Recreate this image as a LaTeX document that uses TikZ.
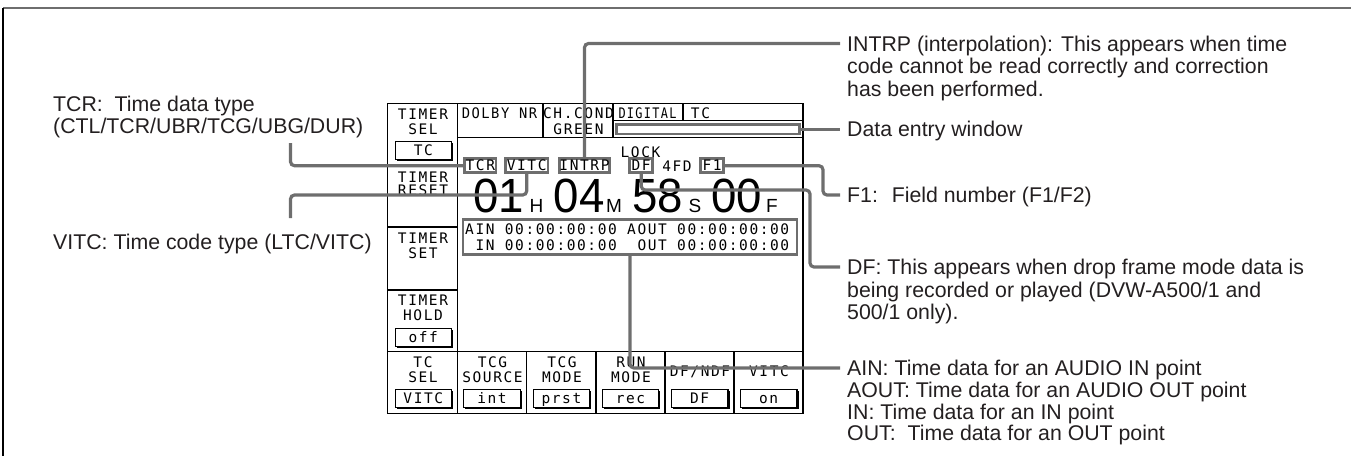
\documentclass[tikz,border=0pt]{standalone}
\usepackage{fontspec}
\usepackage{graphicx}
\usetikzlibrary{shadows}
\newfontfamily\lblfont{Liberation Sans}
\newfontfamily\lcdfont[LetterSpace=11]{DejaVu Sans Mono}
\newfontfamily\bigfont{Liberation Sans}
\definecolor{leadgray}{HTML}{6E6E6E}
\definecolor{txt}{HTML}{231F20}
\newcommand{\lsp}{\hspace{10.33pt}}
\begin{document}
\begin{tikzpicture}[x=1pt,y=-1pt,
  lbl/.style={anchor=base west, inner xsep=7pt, inner ysep=0pt, text height=15pt, text depth=0pt,
    font=\lblfont\fontsize{21.3}{22.5}\selectfont, text=txt},
  lblL/.style={lbl, inner xsep=0pt},
  lcd/.style={anchor=base, inner sep=0pt, font=\lcdfont\fontsize{14.5}{16}\selectfont},
  leader/.style={draw=leadgray, line width=3.2pt, rounded corners=4pt},
  hl/.style={draw=leadgray, line width=2.6pt, inner sep=0pt, minimum height=14.1pt,
    text height=10.5pt, text depth=0pt, font=\lcdfont\fontsize{14.5}{16}\selectfont},
  scr/.style={line width=1.3pt},
  btn/.style={draw=black, fill=white, line width=1.1pt, minimum width=56.5pt, minimum height=18pt,
    inner sep=0pt, text height=10.5pt, text depth=0pt, font=\lcdfont\fontsize{14.5}{16}\selectfont,
    drop shadow={shadow xshift=1.7pt, shadow yshift=-1.7pt, fill=black, opacity=1}},
  big/.style={anchor=base, inner sep=0pt, font=\bigfont\fontsize{48}{48}\selectfont},
  unit/.style={anchor=base, inner sep=0pt, font=\bigfont\fontsize{19}{19}\selectfont}]
\useasboundingbox (0,0) rectangle (1351,456);
% outer frame
\draw[leadgray, line width=2pt] (3,7.5) -- (1351,7.5);
\draw[black, line width=1.3pt] (3,7.5) -- (3,456);

% screen frame
\draw[scr] (387.5,103.5) rectangle (803,413.3);
\draw[scr] (457.3,103.5) -- (457.3,413.3);
\draw[scr] (387.5,165.5) -- (457.3,165.5);
\draw[scr] (387.5,227) -- (457.3,227);
\draw[scr] (387.5,290) -- (457.3,290);
\draw[scr] (387.5,351.7) -- (803,351.7);
\foreach \xx in {526.7,596,665,734} \draw[scr] (\xx,351.7) -- (\xx,413.3);
\draw[scr] (457.3,137.5) -- (803,137.5);
\draw[scr] (543,103.5) -- (543,137.5);
\draw[scr] (613,103.5) -- (613,137.5);
\draw[scr] (683,103.5) -- (683,120.7);
\draw[scr] (613,120.7) -- (803,120.7);

% left column
\node[lcd] (tsel1) at (423,119.5) {TIMER};
\node[lcd] (tsel2) at (423,134.5) {SEL};
\node[btn] (btnTC) at (423.3,150.3) {TC};
\node[lcd] (trst1) at (423,182.5) {TIMER};
\node[lcd] (trst2) at (423,195.5) {RESET};
\node[lcd] (tset1) at (423,243.5) {TIMER};
\node[lcd] (tset2) at (423,258.5) {SET};
\node[lcd] (thld1) at (423,305.5) {TIMER};
\node[lcd] (thld2) at (423,320.5) {HOLD};
\node[btn] (btnOff) at (423.3,337.2) {off};

% bottom row
\node[lcd] (b1a) at (423,367) {TC};
\node[lcd] (b1b) at (423,382.5) {SEL};
\node[lcd] (b2a) at (492.5,367) {TCG};
\node[lcd] (b2b) at (492.5,382.5) {SOURCE};
\node[lcd] (b3a) at (562,367) {TCG};
\node[lcd] (b3b) at (562,382.5) {MODE};
\node[lcd] (b4a) at (631,367) {RUN};
\node[lcd] (b4b) at (631,382.5) {MODE};
\node[lcd] (b5) at (700,376) {DF/NDF};
\node[lcd] (b6) at (769,376) {VITC};
\node[btn] (btn1) at (423.3,398.5) {VITC};
\node[btn] (btn2) at (492,398.5) {int};
\node[btn] (btn3) at (561.4,398.5) {prst};
\node[btn] (btn4) at (630.5,398.5) {rec};
\node[btn] (btn5) at (699.7,398.5) {DF};
\node[btn] (btn6) at (768.7,398.5) {on};

% top row
\node[lcd] (dolby) at (499.5,118) {\scalebox{0.95}[1]{DOLBY NR}};
\node[lcd] (chc1) at (578.5,118) {CH.COND};
\node[lcd] (chc2) at (578.5,134.5) {GREEN};
\node[lcd] (digi) at (647.5,118) {\scalebox{0.82}[1]{DIGITAL}};
\node[lcd] (tctop) at (700.5,118) {TC};
\node[draw=leadgray, line width=2.6pt, minimum width=183pt, minimum height=9.4pt, inner sep=0pt] (dew) at (708,129.2) {};

% status indicators
\node[lcd] (lock) at (640.5,157) {LOCK};
\node[hl, minimum width=31.4pt] (tcr) at (480.3,165.7) {TCR};
\node[hl, minimum width=42.7pt] (vitc) at (526.7,165.7) {VITC};
\node[hl, minimum width=50pt] (intrp) at (584.5,165.7) {INTRP};
\node[hl, minimum width=23.1pt] (df) at (641.2,165.7) {DF};
\node[lcd] (fourfd) at (677,171) {4FD};
\node[hl, minimum width=23.1pt] (f1) at (712.2,165.7) {F1};

% big time code
\node[big] (hh) at (498.4,212.7) {\scalebox{0.95}[1]{01}};
\node[unit] (uh) at (536.5,212.7) {H};
\node[big] (mm) at (579,212.7) {\scalebox{0.95}[1]{04}};
\node[unit] (um) at (614,212.7) {M};
\node[big] (ss) at (657.5,212.7) {\scalebox{0.95}[1]{58}};
\node[unit] (us) at (695,212.7) {S};
\node[big] (ff) at (736.5,212.7) {\scalebox{0.95}[1]{00}};
\node[unit] (uf) at (772,212.7) {F};

% in/out box
\node[draw=leadgray, line width=2.6pt, minimum width=334pt, minimum height=35.1pt, inner sep=0pt] (ainbox) at (630,237.2) {};
\node[lcd, anchor=base west] (ainl1) at (465,234.5) {AIN\lsp 00:00:00:00\lsp AOUT\lsp 00:00:00:00};
\node[lcd, anchor=base west] (ainl2) at (475.3,250.3) {IN\lsp 00:00:00:00\lsp\lsp OUT\lsp 00:00:00:00};

% labels right
\node[lbl] (intrpA) at (840,51) {INTRP (interpolation): This appears when time};
\node[lbl] (intrpB) at (840,73.5) {code cannot be read correctly and correction};
\node[lbl] (intrpC) at (840,96) {has been performed.};
\node[lbl] (delbl) at (840,136.7) {Data entry window};
\node[lbl] (f1lbl) at (840,202.5) {F1:~ Field number (F1/F2)};
\node[lbl] (dfA) at (840,274.5) {DF: This appears when drop frame mode data is};
\node[lbl] (dfB) at (840,297) {being recorded or played (DVW-A500/1 and};
\node[lbl] (dfC) at (840,319.5) {500/1 only).};
\node[lbl] (ainA) at (840,375.5) {AIN: Time data for an AUDIO IN point};
\node[lbl] (ainB) at (840,397.3) {AOUT: Time data for an AUDIO OUT point};
\node[lbl] (ainC) at (840,419.1) {IN: Time data for an IN point};
\node[lbl] (ainD) at (840,440.9) {OUT:~ Time data for an OUT point};

% labels left
\node[lblL] (tcrA) at (53,111.7) {TCR:~ Time data type};
\node[lblL] (tcrB) at (53,133.8) {(CTL/TCR/UBR/TCG/UBG/DUR)};
\node[lblL] (vitcL) at (53,249.2) {VITC: Time code type (LTC/VITC)};

% leader end points
\coordinate (tcrEnd) at (290.5,143);
\coordinate (vitcCorner) at (290.5,195);
\coordinate (vitcEnd) at (290.5,218);
\coordinate (dfCorner) at (810,190);
\coordinate (f1Corner) at (823,195);

% leaders
\draw[leader] (intrp.north) |- (intrpA.west);
\draw[leader] (dew.east) -- (delbl.west);
\draw[leader] (tcr.west) -| (tcrEnd);
\draw[leader] (vitc.south) |- (vitcCorner) -- (vitcEnd);
\draw[leader] (df.south) |- (dfCorner) |- (dfA.west);
\draw[leader] (f1.east) -| (f1Corner) -- (f1lbl.west);
\draw[leader] (ainbox.south) |- (ainA.west);
\end{tikzpicture}
\end{document}
